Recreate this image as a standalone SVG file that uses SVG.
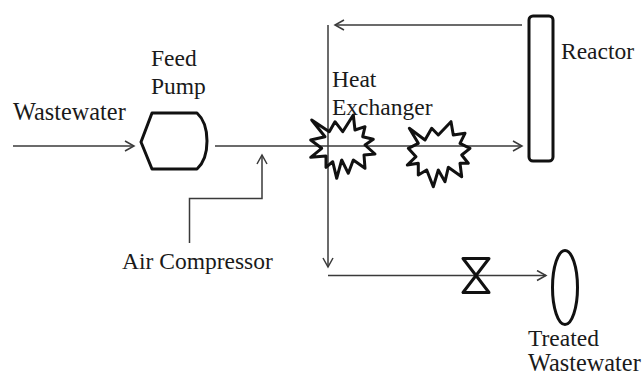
<svg xmlns="http://www.w3.org/2000/svg" width="644" height="376" viewBox="0 0 644 376">
<style>
text{font-family:"Liberation Serif","Times New Roman",serif;font-size:23.500px;fill:#1a1a1a}
text.w{font-size:24.300px}
.c{fill:none;stroke:#3a3a3a;stroke-width:1.5}
.n{fill:none;stroke:#111;stroke-width:3;stroke-linejoin:round}
</style>
<defs><marker id="a" markerWidth="14" markerHeight="14" refX="11" refY="6" orient="auto" markerUnits="userSpaceOnUse"><path d="M2 1L11 6L2 11" fill="none" stroke="#3a3a3a" stroke-width="1.5"/></marker></defs>
<rect width="644" height="376" fill="#fff"/>
<g id="connectors">
<path class="c" d="M13 146H134" marker-end="url(#a)"/>
<path class="c" d="M215 146H522" marker-end="url(#a)"/>
<path class="c" d="M189.500 243V198.500H262V155" marker-end="url(#a)"/>
<path class="c" d="M522 25H335" marker-end="url(#a)"/>
<path class="c" d="M328 25V267" marker-end="url(#a)"/>
<path class="c" d="M328 275.500H546" marker-end="url(#a)"/>
</g>
<g id="wastewater"><text class="w" x="13" y="119.500">Wastewater</text></g>
<g id="feed-pump"><path class="n" d="M141 142L152 113H197Q207 122 207 141Q207 160 197 169H152Z"/><text x="151" y="66">Feed</text><text x="151" y="94">Pump</text></g>
<g id="heat-exchanger-1"><path class="n" d="M311.700 120L329.300 131.700L335 121.700L342.700 131.700L353.300 115L355 130L365 126.700L362.700 136.700L373.300 139.300L365 145L375 154L364 155L365 168.300L353.300 160L348.300 173.300L341.700 160L336.700 178.300L332.700 161.700L326 167.300L326 156L310.700 157.300L321.700 148.300L310.700 140L325 136.700Z"/><text x="332" y="87">Heat</text><text x="332" y="114.500">Exchanger</text></g>
<g id="heat-exchanger-2"><path class="n" d="M409.300 128.300L425 140L431.700 128.300L438.300 135L451 121.700L453.300 135L465 133.300L460 143.300L470 148.300L461.700 155L468.300 163.300L460 163.300L461.700 176.700L448.300 167.300L445 181.700L438.300 170L433.300 186.700L426.700 170L418.300 175L418.300 163.300L407.300 165L416 156.700L408.300 148.300L418.300 143.300Z"/></g>
<g id="reactor"><rect class="n" x="529" y="16" width="24" height="145" rx="4"/><text x="561" y="59">Reactor</text></g>
<g id="air-compressor"><text x="122" y="269">Air Compressor</text></g>
<g id="valve"><path class="n" d="M463 258.500H489L463 292.500H489Z"/></g>
<g id="treated-wastewater"><ellipse class="n" cx="565" cy="287.500" rx="12.500" ry="37"/><text x="528" y="346">Treated</text><text class="w" x="528" y="370.500">Wastewater</text></g>
</svg>
